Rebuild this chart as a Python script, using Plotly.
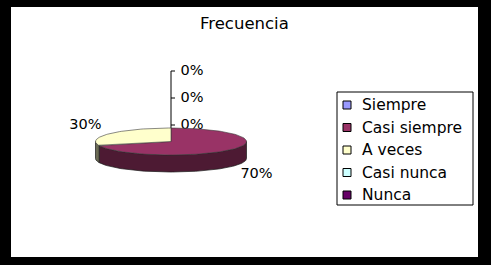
import math
import plotly.graph_objects as go

# Survey answers and their share of responses (percent)
categories = ["Siempre", "Casi siempre", "A veces", "Casi nunca", "Nunca"]
percentages = [0, 70, 30, 0, 0]
top_colors = ["#9999FF", "#993366", "#FFFFCC", "#CCFFFF", "#660066"]
side_colors = ["#4C4C80", "#4D1A33", "#6B6B55", "#668080", "#330033"]
chart_title = "Frecuencia"

W, H = 491, 265
X0, X1, Y0, Y1 = 11, 478, 7, 257          # white chart area (pixel units)
CX, CY, RX, RY, DEPTH = 171, 141.5, 75.5, 13.5, 17   # tilted pie geometry
FONT = "DejaVu Sans"


def ell(theta_deg, drop=0.0):
    t = math.radians(theta_deg)
    return CX + RX * math.cos(t), CY - RY * math.sin(t) + drop


def arc(a_from, a_to, drop=0.0):
    n = max(2, int(abs(a_to - a_from) / 2) + 2)
    return [ell(a_from + (a_to - a_from) * i / (n - 1), drop) for i in range(n)]


total = sum(percentages)
slices = []
start = 90.0
for name, v, tc, sc in zip(categories, percentages, top_colors, side_colors):
    span = 360.0 * v / total
    slices.append((name, v, start, start - span, tc, sc))
    start -= span

fig = go.Figure()

# data labels (drawn first so the pie top sits over them)
lab_x, lab_y, lab_t = [], [], []
stack = 0
for name, v, a0, a1, tc, sc in slices:
    if v == 0:
        lab_x.append(CX + 21)
        lab_y.append(CY - RY - 3 - 27 * stack)
        stack += 1
    else:
        mid = math.radians((a0 + a1) / 2)
        s = math.sin(mid)
        lab_x.append(CX + 1.4 * RX * math.cos(mid))
        lab_y.append(CY - 2.0 * RY * s + (DEPTH if s < 0 else 0))
    lab_t.append(f"{v:.0f}%")

fig.add_trace(go.Scatter(
    x=lab_x, y=lab_y, text=lab_t, mode="text", textposition="middle center",
    textfont=dict(family=FONT, size=14.5, color="#000000"),
    hoverinfo="skip", showlegend=False))

# leader line for the stacked zero labels
zero_y = [lab_y[i] for i, v in enumerate(percentages) if v == 0]
lx, ly = [CX, CX, None], [min(zero_y), CY - RY, None]
for yy in zero_y:
    lx += [CX, CX + 4, None]
    ly += [yy, yy, None]
fig.add_trace(go.Scatter(x=lx, y=ly, mode="lines",
                         line=dict(color="#000000", width=1),
                         hoverinfo="skip", showlegend=False))

# front walls of the pie (visible between 180 and 360 degrees, i.e. -180..0)
for name, v, a0, a1, tc, sc in slices:
    lo, hi = max(a1, -180.0), min(a0, 0.0)
    if v == 0 or hi <= lo:
        continue
    pts = arc(lo, hi) + arc(hi, lo, DEPTH)
    fig.add_trace(go.Scatter(
        x=[p[0] for p in pts] + [pts[0][0]], y=[p[1] for p in pts] + [pts[0][1]],
        mode="lines", fill="toself", fillcolor=sc,
        line=dict(color="#1a1a1a", width=0.7),
        hoverinfo="skip", showlegend=False))

# top faces
for name, v, a0, a1, tc, sc in slices:
    if v == 0:
        continue
    pts = [(CX, CY)] + arc(a0, a1) + [(CX, CY)]
    fig.add_trace(go.Scatter(
        x=[p[0] for p in pts], y=[p[1] for p in pts],
        mode="lines", fill="toself", fillcolor=tc,
        line=dict(color="#3a3a3a", width=0.6),
        name=name, hoverinfo="skip", showlegend=False))

# legend box
LG_L, LG_T, LG_R, LG_B = 337, 92, 473, 205
LG_ROW0, LG_STEP = 105, 22.5
fig.add_shape(type="rect", x0=LG_L, y0=LG_T, x1=LG_R, y1=LG_B,
              line=dict(color="#000000", width=1), fillcolor="#FFFFFF", layer="below")
leg_y = [LG_ROW0 + LG_STEP * i for i in range(len(categories))]
fig.add_trace(go.Scatter(
    x=[LG_L + 10] * len(categories), y=leg_y, mode="markers",
    marker=dict(symbol="square", size=8, color=top_colors,
                line=dict(color="#000000", width=1)),
    hoverinfo="skip", showlegend=False))
for name, yy in zip(categories, leg_y):
    fig.add_annotation(x=LG_L + 24, y=yy, text=name, showarrow=False,
                       xanchor="left", yanchor="middle", borderpad=0,
                       font=dict(family=FONT, size=15.5, color="#000000"))

fig.add_annotation(x=(X0 + X1) / 2, y=23, text=chart_title, showarrow=False,
                   xanchor="center", yanchor="middle",
                   font=dict(family=FONT, size=16.5, color="#000000"))

fig.update_layout(
    width=W, height=H,
    margin=dict(l=X0, r=W - X1, t=Y0, b=H - Y1, pad=0),
    paper_bgcolor="#000000", plot_bgcolor="#FFFFFF",
    xaxis=dict(range=[X0, X1], visible=False, fixedrange=True),
    yaxis=dict(range=[Y1, Y0], visible=False, fixedrange=True),
    showlegend=False,
)

fig.write_html("out.html")
